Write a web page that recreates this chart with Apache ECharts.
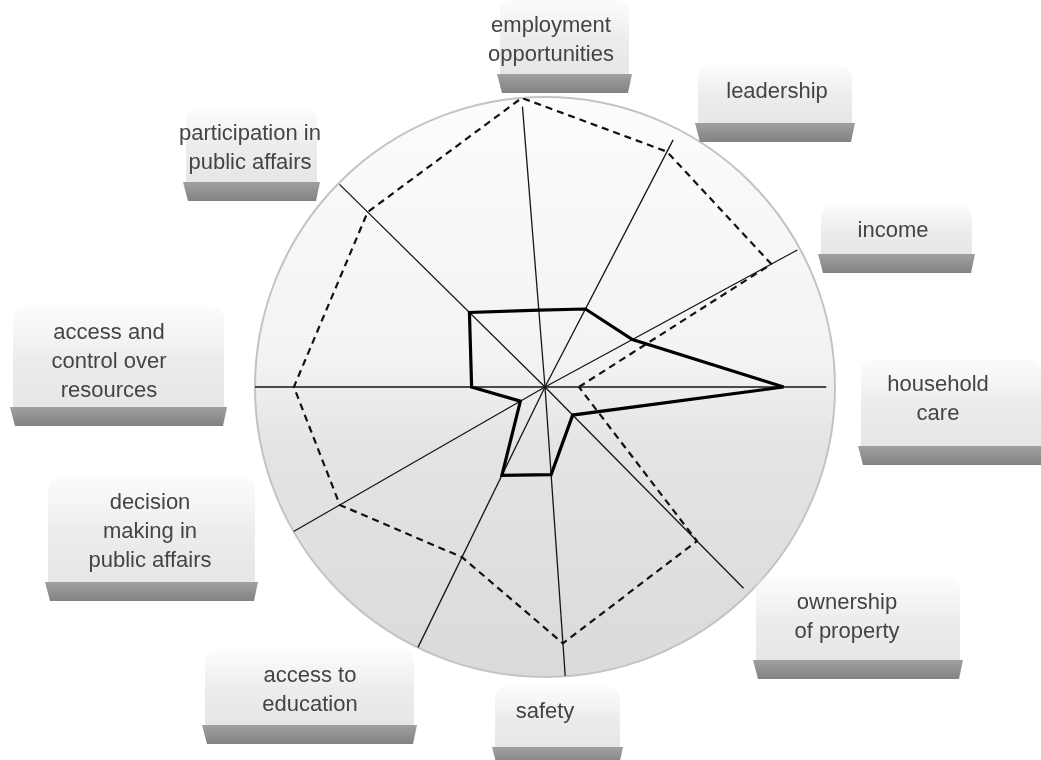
<!DOCTYPE html>
<html>
<head>
<meta charset="utf-8">
<script src="https://cdn.jsdelivr.net/npm/echarts@6/dist/echarts.min.js"></script>
<style>
html, body { margin: 0; padding: 0; background: #fff; }
#main { width: 1041px; height: 760px; }
</style>
</head>
<body>
<div id="main"></div>
<script>
// categories, counter-clockwise from the right
var categories = [
    'household\ncare',
    'income',
    'leadership',
    'employment\nopportunities',
    'participation in\npublic affairs',
    'access and\ncontrol over\nresources',
    'decision\nmaking in\npublic affairs',
    'access to\neducation',
    'safety',
    'ownership\nof property'
];
// spoke directions (degrees) and spoke lengths (0-100 scale)
var angles = [0, 28.5, 62.6, 94.6, 135.4, 180, 209.9, 244, 274, 314.6];
var spokeLen = [97, 99, 96, 97, 99.5, 100, 100, 100, 100, 97.5];
// the two profiles
var solidValues = [82.3, 34.3, 30.3, 26.6, 36.6, 25.3, 9.8, 33.9, 30.3, 13.6];
var dashedValues = [11.7, 88.8, 91.4, 100, 85.9, 86.6, 81.6, 65.3, 88.6, 74.6];

// label box layout: [barLeft, barRight, barTop, textX, firstLineY]
var labelBoxes = [
    [858, 1045, 446, 938, 385],
    [818, 975, 254, 893, 231],
    [695, 855, 123, 777, 92],
    [497, 632, 74, 551, 26],
    [183, 320, 182, 250, 134],
    [10, 227, 407, 109, 333],
    [45, 258, 582, 150, 503],
    [202, 417, 725, 310, 676],
    [492, 623, 747, 545, 712],
    [753, 963, 660, 847, 603]
];
var lineH = 29;

var chart = echarts.init(document.getElementById('main'));

function closed(vals) {
    var pts = vals.map(function (v, i) { return [v, angles[i]]; });
    pts.push(pts[0]);
    return pts;
}

var series = [];
categories.forEach(function (c, i) {
    series.push({
        type: 'line',
        coordinateSystem: 'polar',
        data: [[0, angles[i]], [spokeLen[i], angles[i]]],
        symbol: 'none',
        silent: true,
        z: 3,
        lineStyle: { color: '#151515', width: 1.3 }
    });
});
series.push({
    type: 'line',
    coordinateSystem: 'polar',
    data: closed(dashedValues),
    symbol: 'none',
    z: 4,
    lineStyle: { color: '#111', width: 2.2, type: [7, 5] }
});
series.push({
    type: 'line',
    coordinateSystem: 'polar',
    data: closed(solidValues),
    symbol: 'none',
    z: 5,
    lineStyle: { color: '#000', width: 3.2, join: 'miter' }
});

var graphics = [{
    type: 'circle',
    z: -10,
    shape: { cx: 545, cy: 387, r: 290 },
    style: {
        fill: new echarts.graphic.LinearGradient(0, 0, 0, 1, [
            { offset: 0, color: '#fcfcfc' },
            { offset: 0.45, color: '#f3f3f3' },
            { offset: 0.6, color: '#e4e4e4' },
            { offset: 1, color: '#dadada' }
        ]),
        stroke: '#c3c3c3',
        lineWidth: 2
    }
}];

labelBoxes.forEach(function (b, i) {
    var l = b[0], r = b[1], bt = b[2];
    var top = b[4] - 26;
    graphics.push({
        type: 'rect',
        z: -5,
        shape: { x: l + 3, y: top, width: r - l - 6, height: bt - top, r: [12, 12, 0, 0] },
        style: {
            fill: new echarts.graphic.LinearGradient(0, 0, 0, 1, [
                { offset: 0, color: 'rgba(240,240,240,0.25)' },
                { offset: 0.5, color: 'rgba(232,232,232,0.8)' },
                { offset: 1, color: '#e6e6e6' }
            ])
        }
    });
    graphics.push({
        type: 'polygon',
        z: -4,
        shape: { points: [[l, bt], [r, bt], [r - 4, bt + 19], [l + 5, bt + 19]] },
        style: {
            fill: new echarts.graphic.LinearGradient(0, 0, 0, 1, [
                { offset: 0, color: '#a0a0a0' },
                { offset: 1, color: '#828282' }
            ])
        }
    });
    graphics.push({
        type: 'text',
        z: -3,
        x: b[3],
        y: b[4] - lineH / 2,
        style: {
            text: categories[i],
            fill: '#444',
            fontFamily: 'Liberation Sans, Arial, sans-serif',
            fontSize: 22,
            lineHeight: lineH,
            align: 'center',
            verticalAlign: 'top'
        }
    });
});

chart.setOption({
    animation: false,
    backgroundColor: '#fff',
    polar: { center: [545, 387], radius: 290 },
    angleAxis: {
        type: 'value', min: 0, max: 360, startAngle: 0, clockwise: false,
        axisLine: { show: false }, axisTick: { show: false },
        axisLabel: { show: false }, splitLine: { show: false }
    },
    radiusAxis: {
        type: 'value', min: 0, max: 100,
        axisLine: { show: false }, axisTick: { show: false },
        axisLabel: { show: false }, splitLine: { show: false }
    },
    graphic: graphics,
    series: series
});
</script>
</body>
</html>
